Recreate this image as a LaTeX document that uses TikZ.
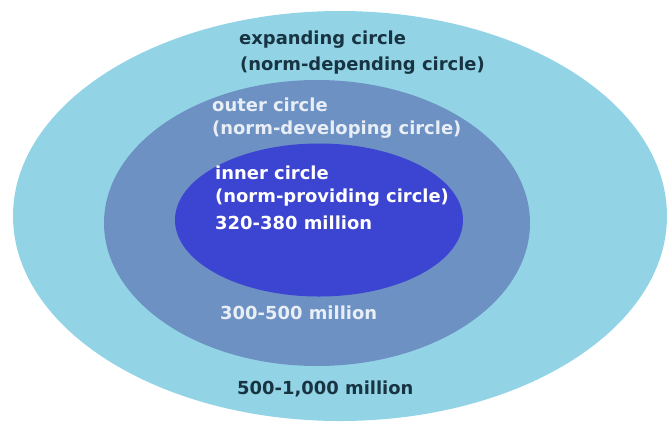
\documentclass[tikz,border=0pt]{standalone}
\usepackage{fontspec}
\setmainfont{DejaVu Sans}
\usetikzlibrary{shapes.geometric}
\definecolor{expandblue}{RGB}{146,212,230}
\definecolor{outerblue}{RGB}{110,145,195}
\definecolor{innerblue}{RGB}{60,68,210}
\definecolor{darktext}{RGB}{24,52,66}
\definecolor{lighttext}{RGB}{232,238,246}
\tikzset{
  ring/.style={ellipse, draw=none, inner sep=0pt},
  circlelabel/.style={anchor=west, inner sep=0pt, font=\bfseries\fontsize{18}{21}\selectfont}
}
\begin{document}
\begin{tikzpicture}[x=1bp,y=-1bp]
      \useasboundingbox (0,0) rectangle (668,423);
      \node[ring, fill=expandblue, minimum width=654bp, minimum height=410bp] (expanding) at (340,216) {};
      \node[ring, fill=outerblue, minimum width=426bp, minimum height=286bp] (outer) at (317,223) {};
      \node[ring, fill=innerblue, minimum width=288bp, minimum height=153bp] (inner) at (319,220) {};
      \begin{scope}[every node/.style={circlelabel}]
        \node[darktext] (expname) at (239,40) {expanding circle};
        \node[darktext] (expnorm) at (240,66) {(norm-depending circle)};
        \node[lighttext] (outname) at (212,105) {outer circle};
        \node[lighttext] (outnorm) at (212,130) {(norm-developing circle)};
        \node[white] (innname) at (215,173) {inner circle};
        \node[white] (innnorm) at (215,198) {(norm-providing circle)};
        \node[white] (innsize) at (215,223) {320-380 million};
        \node[lighttext] (outsize) at (220,313) {300-500 million};
        \node[darktext] (expsize) at (237,389) {500-1,000 million};
      \end{scope}
    \end{tikzpicture}
\end{document}
